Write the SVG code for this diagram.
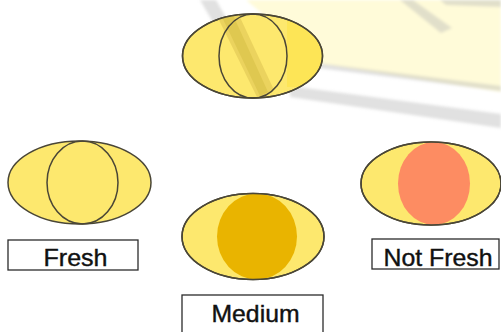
<svg xmlns="http://www.w3.org/2000/svg" width="501" height="332" viewBox="0 0 501 332">
  <style>
    .egg { fill: #fde86e; stroke: #4a4636; stroke-width: 1.5; }
    .yolk-line { fill: none; stroke: #4a4636; stroke-width: 1.5; }
    .label { fill: #ffffff; stroke: #2b2b2b; stroke-width: 1.3; }
    .label-text { font-family: "Liberation Sans", Arial, sans-serif; font-size: 24px; fill: #111111; stroke: #111111; stroke-width: 0.4; text-anchor: middle; }
    .wm-gray { fill: #b0b0b0; opacity: 0.38; }
  </style>
  <defs>
    <clipPath id="clip-medium"><ellipse cx="253" cy="236.5" rx="71" ry="43"/></clipPath>
    <clipPath id="clip-notfresh"><ellipse cx="431" cy="183.5" rx="70" ry="41.5"/></clipPath>
    <clipPath id="clip-top"><ellipse cx="252.5" cy="56" rx="70" ry="42"/></clipPath>
    <filter id="soft" x="-10%" y="-10%" width="120%" height="120%">
      <feGaussianBlur stdDeviation="1.6"/>
    </filter>
  </defs>

  <rect width="501" height="332" fill="#ffffff"/>

  <!-- faint background watermark -->
  <g id="watermark" filter="url(#soft)">
    <path d="M246,0 L501,0 L501,92 L322,64 Z" fill="#fffad0" opacity="0.8"/>
    <path class="wm-gray" d="M200,0 L216,0 L268,92 L256,96 Z"/>
    <path class="wm-gray" d="M290,86 L501,114 L501,128 L290,97 Z"/>
    <path class="wm-gray" d="M318,63 L501,86 L501,91 L318,68 Z" opacity="0.2"/>
    <path class="wm-gray" d="M400,0 L413,0 L452,28 L441,33 Z"/>
    <path class="wm-gray" d="M440,0 L501,0 L501,7 L446,5 Z" opacity="0.22"/>
  </g>

  <!-- initial egg, candled -->
  <g id="egg-top">
    <ellipse class="egg" cx="252.5" cy="56" rx="70" ry="42"/>
    <path d="M287,20 A70,42 0 0 1 322,56 A70,42 0 0 1 300,87 L287,87 Z" fill="#fde33a" opacity="0.45"/>
    <path d="M217,16 L238,13 L274,90 L258,99 Z" fill="#ebd35e" clip-path="url(#clip-top)"/>
    <path d="M222,17 L233,15 L268,92 L260,96 Z" fill="#dfc850" clip-path="url(#clip-top)"/>
    <ellipse class="yolk-line" cx="253" cy="56" rx="34" ry="42"/>
    <ellipse cx="252.5" cy="56" rx="70" ry="42" fill="none" stroke="#4a4636" stroke-width="1.5"/>
  </g>

  <!-- fresh egg -->
  <g id="egg-fresh">
    <ellipse class="egg" cx="79.5" cy="182.5" rx="71.5" ry="41.5"/>
    <ellipse class="yolk-line" cx="82.5" cy="182.5" rx="35.5" ry="41.5"/>
    <rect class="label" x="8" y="240" width="130" height="30"/>
    <text class="label-text" x="75.5" y="266" textLength="64" lengthAdjust="spacingAndGlyphs">Fresh</text>
  </g>

  <!-- medium egg -->
  <g id="egg-medium">
    <ellipse class="egg" cx="253" cy="236.5" rx="71" ry="43"/>
    <ellipse cx="257" cy="236.5" rx="40" ry="43" fill="#e9b400" clip-path="url(#clip-medium)"/>
    <ellipse cx="253" cy="236.5" rx="71" ry="43" fill="none" stroke="#4a4636" stroke-width="1.5"/>
    <rect class="label" x="182" y="295" width="141" height="40"/>
    <text class="label-text" x="255.5" y="322" textLength="88" lengthAdjust="spacingAndGlyphs">Medium</text>
  </g>

  <!-- stale egg -->
  <g id="egg-not-fresh">
    <ellipse class="egg" cx="431" cy="183.5" rx="70" ry="41.5"/>
    <ellipse cx="434" cy="183.5" rx="36" ry="41.5" fill="#fd8c62" clip-path="url(#clip-notfresh)"/>
    <ellipse cx="431" cy="183.5" rx="70" ry="41.5" fill="none" stroke="#4a4636" stroke-width="1.5"/>
    <rect class="label" x="372" y="239" width="127" height="30"/>
    <text class="label-text" x="438" y="266" textLength="109" lengthAdjust="spacingAndGlyphs">Not Fresh</text>
  </g>
</svg>
